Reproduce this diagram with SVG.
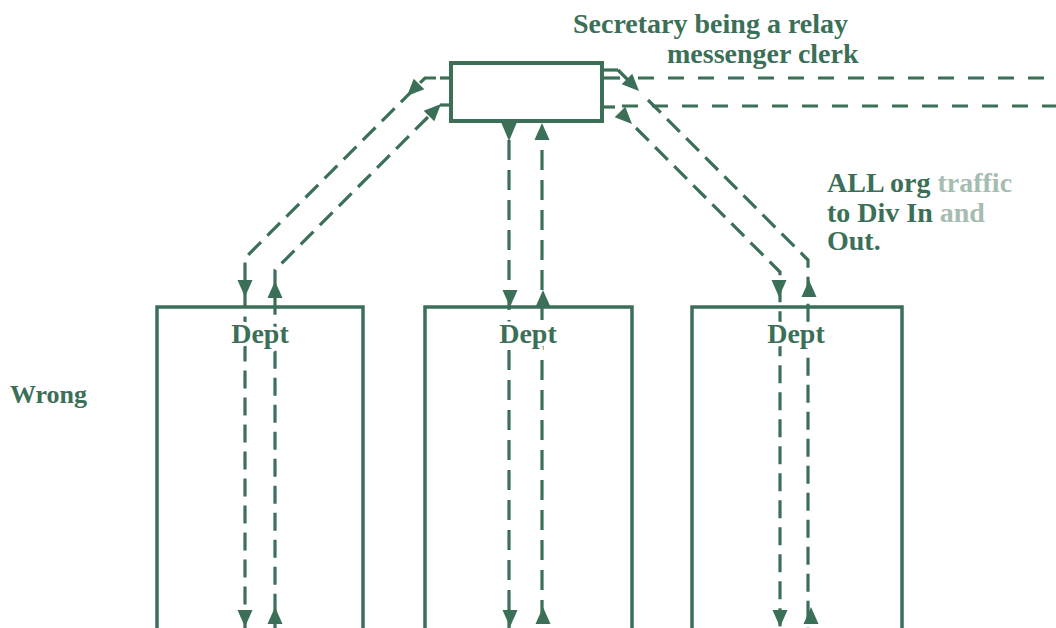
<svg xmlns="http://www.w3.org/2000/svg" width="1056" height="628" viewBox="0 0 1056 628">
  <defs>
    <style>
      .t { font-family: "Liberation Serif", "Times New Roman", serif; font-weight: bold; font-size: 28px; fill: #3b6f57; }
      .halo { paint-order: stroke; stroke: #ffffff; stroke-width: 7px; stroke-linejoin: round; }
      .faint { fill: #a7bcb0; }
      .box { fill: #ffffff; stroke: #3b6f57; stroke-width: 4; }
      .dept { fill: none; stroke: #3b6f57; stroke-width: 3.5; }
      .dash { fill: none; stroke: #3b6f57; stroke-width: 3.2; stroke-dasharray: 18 9; }
      .hdash { fill: none; stroke: #3b6f57; stroke-width: 3; stroke-dasharray: 16 14; }
      .vdash { fill: none; stroke: #3b6f57; stroke-width: 3.2; stroke-dasharray: 20 10; }
      .stub { fill: none; stroke: #3b6f57; stroke-width: 3.2; }
      .ah { fill: #3b6f57; }
    </style>
    <path id="ah" d="M0,0 L-7.5,-17 L7.5,-17 Z"/>
  </defs>

  <rect width="1056" height="628" fill="#ffffff"/>

  <g id="secretary">
    <rect class="box" x="451" y="63" width="151" height="58"/>
  </g>

  <g id="dept-left">
    <path class="dept" d="M157,628 V307 H363 V628"/>
  </g>
  <g id="dept-middle">
    <path class="dept" d="M425,628 V307 H632 V628"/>
  </g>
  <g id="dept-right">
    <path class="dept" d="M692,628 V307 H902 V628"/>
  </g>

  <g id="connectors">
    <!-- left outer: box to left dept -->
    <path class="stub" d="M451,78 H440"/>
    <path class="dash" d="M436,78 H425 L245,258 V628"/>
    <use href="#ah" class="ah" transform="translate(407,96) rotate(45)"/>
    <use href="#ah" class="ah" transform="translate(245,297)"/>
    <use href="#ah" class="ah" transform="translate(245,627)"/>

    <!-- left inner: left dept to box -->
    <path class="stub" d="M451,105 H440"/>
    <path class="dash" d="M428,117 L275,270 V628"/>
    <use href="#ah" class="ah" transform="translate(441,104) rotate(225)"/>
    <use href="#ah" class="ah" transform="translate(275,281) rotate(180)"/>
    <use href="#ah" class="ah" transform="translate(275,607) rotate(180)"/>

    <!-- middle down -->
    <path class="vdash" d="M509,140 V628"/>
    <use href="#ah" class="ah" transform="translate(509,141) scale(1.1,1.15)"/>
    <use href="#ah" class="ah" transform="translate(510,307)"/>
    <use href="#ah" class="ah" transform="translate(510,627)"/>

    <!-- middle up -->
    <path class="vdash" d="M542,150 V628"/>
    <use href="#ah" class="ah" transform="translate(542,123) rotate(180)"/>
    <use href="#ah" class="ah" transform="translate(543,290) rotate(180)"/>
    <use href="#ah" class="ah" transform="translate(543,607) rotate(180)"/>

    <!-- right outer -->
    <path class="stub" d="M602,70 H618"/>
    <path class="dash" d="M648,100 L808,260 V628"/>
    <path class="stub" d="M618,70 L630,82"/>
    <use href="#ah" class="ah" transform="translate(639,91) rotate(-45)"/>
    <use href="#ah" class="ah" transform="translate(809,280) rotate(180)"/>
    <use href="#ah" class="ah" transform="translate(811,607) rotate(180)"/>

    <!-- right inner -->
    <path class="stub" d="M602,107 H615"/>
    <path class="dash" d="M636,128 L780,272 V628"/>
    <use href="#ah" class="ah" transform="translate(632,124) rotate(-45)"/>
    <use href="#ah" class="ah" transform="translate(779,297)"/>
    <use href="#ah" class="ah" transform="translate(780,627)"/>

    <!-- Div in/out lines -->
    <path class="stub" d="M602,78 H620"/>
    <path class="hdash" d="M638,78 H1056"/>
    <path class="hdash" d="M622,106 H1056"/>
  </g>

  <g id="dept-labels">
    <text class="t halo" x="260" y="343" text-anchor="middle">Dept</text>
    <text class="t halo" x="528" y="343" text-anchor="middle">Dept</text>
    <text class="t halo" x="796" y="343" text-anchor="middle">Dept</text>
  </g>

  <g id="labels">
    <text class="t" x="573" y="33">Secretary being a relay</text>
    <text class="t" x="667" y="63">messenger clerk</text>
    <text class="t" x="827" y="192">ALL org <tspan class="faint">traffic</tspan></text>
    <text class="t" x="827" y="222">to Div In <tspan class="faint">and</tspan></text>
    <text class="t" x="827" y="250">Out.</text>
    <text class="t" x="10" y="403" style="font-size:26px">Wrong</text>
  </g>
</svg>
